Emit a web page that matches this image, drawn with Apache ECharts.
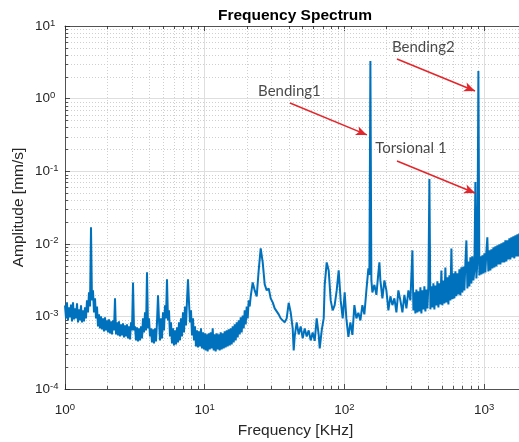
<!DOCTYPE html>
<html><head><meta charset="utf-8">
<script src="https://cdn.jsdelivr.net/npm/echarts@6/dist/echarts.min.js"></script>
<style>html,body{margin:0;padding:0;background:#fff}#c{width:519px;height:442px}</style>
</head><body><div id="c"></div>
<script>
// ---- data (frequency in KHz, amplitude in mm/s) ----
const freq = [
1.000,1.017,1.033,1.050,1.068,1.086,1.104,1.122,1.141,1.160,
1.179,1.199,1.219,1.239,1.259,1.280,1.302,1.323,1.345,1.368,
1.390,1.413,1.437,1.461,1.485,1.510,1.535,1.560,1.586,1.613,
1.640,1.667,1.695,1.723,1.752,1.781,1.810,1.840,1.871,1.902,
1.934,1.966,1.998,2.032,2.065,2.100,2.135,2.170,2.206,2.243,
2.280,2.318,2.357,2.396,2.435,2.476,2.517,2.559,2.602,2.645,
2.689,2.734,2.779,2.825,2.872,2.920,2.968,3.018,3.068,3.119,
3.171,3.223,3.277,3.331,3.387,3.443,3.500,3.558,3.617,3.677,
3.738,3.800,3.864,3.928,3.993,4.060,4.127,4.196,4.265,4.336,
4.408,4.481,4.556,4.632,4.709,4.787,4.866,4.947,5.029,5.113,
5.198,5.284,5.372,5.461,5.553,5.645,5.739,5.834,5.931,6.030,
6.130,6.232,6.335,6.440,6.547,6.656,6.767,6.879,6.993,7.110,
7.228,7.348,7.470,7.594,7.720,7.849,7.979,8.112,8.246,8.383,
8.522,8.664,8.808,8.954,9.103,9.254,9.408,9.565,9.723,9.885,
10.05,10.17,10.33,10.50,10.68,10.86,11.04,11.22,11.41,11.60,
11.79,11.99,12.19,12.39,12.59,12.80,13.02,13.23,13.45,13.68,
13.90,14.13,14.37,14.61,14.85,15.10,15.35,15.60,15.86,16.13,
16.40,16.67,16.95,17.23,17.52,17.81,18.10,18.40,18.71,19.02,
19.34,19.66,19.98,20.32,20.65,21.00,
21.35,22.06,22.80,23.57,24.35,25.17,26.02,26.89,27.79,28.72,
29.68,30.68,31.71,32.77,33.87,35.00,36.17,37.38,38.64,39.93,
41.27,42.65,43.36,44.08,45.56,47.09,48.66,50.29,51.98,53.72,
55.53,57.39,59.31,61.30,63.35,65.47,66.6,68.8,71.1,72.3,
74.70,77.2,79.79,82.46,85.22,88.08,91.03,94.08,97.23,100.5,
103.3,106.8,110.4,114.1,117.9,121.9,125.9,130.2,134.5,139.0,
143.7,148.5,151.0,153.5,156,158.6,164.0,169.5,175.2,178.1,
181.0,187.1,193.4,199.8,206.5,213.5,220.6,228.0,235.7,243.5,
251.7,260.2,268.9,277.9,287.2,296.8,
306.8,311.9,317.1,322.3,327.7,333.1,338.7,344.3,350.0,355.8,
361.7,367.7,373.8,380.0,386.4,392.8,399.3,406.0,412.7,419.6,
426.5,433.6,440.8,448.1,455.6,463.2,470.9,478.7,486.6,494.7,
502.9,511.3,519.8,528.4,537.2,546.1,555.3,564.5,573.9,583.4,
593.1,603.0,613.0,623.2,633.5,644.0,654.7,665.6,676.7,687.9,
699.3,711.0,722.8,734.8,747.0,759.4,772.0,784.9,797.9,811.2,
824.6,838.3,852.2,866.4,880.8,895.4,910.3,925.4,940.8,956.5,
972.3,988.5,1005,1022,1038,1055,1073,1091,1110,1128,
1147,1166,1185,1205,1225,1245,1265,1286,1309,1330,
1352,1375,1397,1420,1444,1468,1492,1517,1542,1568,
1594,1620,1647,1675,1702,1731,1760,1789,1819
];
const amp = [
0.00142,0.000939,0.00156,0.000881,0.00133,0.000969,0.00146,0.000854,0.00156,0.000910,
0.00129,0.000939,0.00151,0.000827,0.00125,0.000881,0.00142,0.000827,0.00121,0.000854,
0.00133,0.000939,0.00166,0.001135,0.00214,0.00137,0.01683,0.00166,0.00228,0.001135,
0.00177,0.000939,0.00137,0.000729,0.001065,0.000684,0.00100,0.000663,0.000939,0.000622,
0.000969,0.000642,0.000881,0.000602,0.000910,0.000584,0.000854,0.000565,0.000881,0.000642,
0.00177,0.000565,0.000827,0.000548,0.000854,0.000530,0.000776,0.000548,0.000801,0.000514,
0.000752,0.000530,0.000776,0.000498,0.000729,0.000482,0.000827,0.000642,0.00294,0.000642,
0.000729,0.000467,0.000706,0.000453,0.000684,0.000467,0.000729,0.000498,0.000939,0.000602,
0.001135,0.000642,0.00404,0.000684,0.000939,0.000530,0.000684,0.000438,0.000663,0.000425,
0.000684,0.000453,0.000827,0.00195,0.000881,0.000467,0.000939,0.000498,0.001135,0.000642,
0.00142,0.000939,0.00324,0.000881,0.00121,0.000530,0.000827,0.000425,0.000684,0.000399,
0.000642,0.000411,0.000706,0.000438,0.000827,0.000467,0.000939,0.000530,0.001135,0.000602,
0.00137,0.000752,0.00166,0.00324,0.00156,0.000827,0.00121,0.000548,0.000939,0.000467,
0.000729,0.000386,0.000642,0.000374,0.000622,0.000386,0.000684,0.000362,0.000602,0.000351,
0.000584,0.000340,0.000565,0.000329,0.000584,0.000351,0.000602,0.000362,0.000684,0.000340,
0.000565,0.000329,0.000584,0.000351,0.000565,0.000340,0.000602,0.000351,0.000584,0.000362,
0.000622,0.000374,0.000642,0.000386,0.000663,0.000399,0.000684,0.000411,0.000729,0.000438,
0.000776,0.000467,0.000827,0.000514,0.000881,0.000565,0.000969,0.000602,0.00103,0.000684,
0.00121,0.000776,0.00137,0.000939,0.00166,0.00137,
0.00189,0.00294,0.00228,0.00189,0.00430,0.00864,0.00554,0.00276,0.00228,0.00243,
0.00177,0.00156,0.00129,0.00137,0.001065,0.000939,0.000985,0.000827,0.000939,0.00154,
0.001135,0.000684,0.000340,0.000530,0.000827,0.000565,0.000729,0.000498,0.000684,0.000530,
0.000642,0.000467,0.000602,0.000460,0.000939,0.000556,0.000362,0.000642,0.000939,0.00272,
0.00554,0.00430,0.00166,0.00121,0.00143,0.00228,0.00430,0.00166,0.000939,0.00214,
0.000939,0.000522,0.000827,0.000556,0.00143,0.000939,0.00112,0.000881,0.00143,0.001065,
0.00228,0.00458,0.00373,3.30,0.00313,0.00214,0.00272,0.00198,0.00404,0.00554,
0.00313,0.00177,0.00313,0.00228,0.00121,0.00189,0.00143,0.00177,0.001135,0.00228,
0.00166,0.001135,0.00198,0.00129,0.00228,0.00166,
0.00811,0.00121,0.00214,0.00110,0.00235,0.001135,0.00221,0.00117,0.00251,0.00110,
0.00228,0.00125,0.00259,0.00117,0.00235,0.00129,0.00267,0.0781,0.00125,0.00259,
0.00133,0.00285,0.00125,0.00267,0.00142,0.00304,0.00133,0.00285,0.00146,0.00430,
0.00142,0.00313,0.00151,0.00473,0.00156,0.00345,0.00146,0.00367,0.00166,0.00864,
0.00172,0.00391,0.00177,0.00417,0.00189,0.00391,0.00201,0.00444,0.00195,0.00473,
0.00214,0.00488,0.00228,0.00537,0.01114,0.00243,0.00572,0.00259,0.00650,0.00285,
0.00671,0.00313,0.00430,0.0710,0.00334,0.00554,2.40,0.00367,0.00671,0.00379,
0.00692,0.00391,0.00737,0.00404,0.00761,0.01226,0.00417,0.00811,0.00430,0.00837,
0.00458,0.00892,0.00473,0.00921,0.00488,0.00950,0.00520,0.00981,0.00520,0.01013,
0.00554,0.01045,0.00554,0.01114,0.00572,0.01114,0.00610,0.01187,0.00610,0.01226,
0.00650,0.01265,0.00629,0.01306,0.00671,0.01348,0.00671,0.01391,0.00692
];
const xRange = [1, 1778];
const yRange = [1e-4, 10];
const xMinorTicks = [2,3,4,5,6,7,8,9,20,30,40,50,60,70,80,90,200,300,400,500,600,700,800,900];
const yMinorTicks = [2e-4,3e-4,4e-4,5e-4,6e-4,7e-4,8e-4,9e-4,2e-3,3e-3,4e-3,5e-3,6e-3,7e-3,8e-3,9e-3,
  0.02,0.03,0.04,0.05,0.06,0.07,0.08,0.09,0.2,0.3,0.4,0.5,0.6,0.7,0.8,0.9,2,3,4,5,6,7,8,9];
const annotationLabels = ['Bending1', 'Bending2', 'Torsional 1'];
const labelAnchors = [[24.1, 1.27], [219, 5.14], [166, 0.209]];
const arrowStarts = [[40.8, 0.87], [238, 3.51], [238, 0.138]];
const arrowEnds = [[145, 0.316], [861, 1.27], [861, 0.050]];

// ---- chart ----
const FONT = '"Liberation Sans", Arial, sans-serif';
const AX = '#262626';
const chart = echarts.init(document.getElementById('c'), null, {renderer: 'canvas'});
const spectrum = freq.map((f, i) => [f, amp[i]]);

function expLabel(v) {
  const l = Math.log10(v);
  const e = Math.round(l);
  if (Math.abs(l - e) > 1e-6) return '';
  return '{b|10}{s|' + (e < 0 ? '-' : '') + Math.abs(e) + '}';
}
const rich = {
  b: {fontSize: 13.5, fontFamily: FONT, color: AX, lineHeight: 16},
  s: {fontSize: 9.5, fontFamily: FONT, color: AX, lineHeight: 11, padding: [0, 0, 6, 0]}
};

function minorX(params, api) {
  const v = api.value(0);
  const b = api.coord([v, yRange[0]]);
  const t = api.coord([v, yRange[1]]);
  const x = Math.round(b[0]) + 0.5;
  return {type: 'group', children: [
    {type: 'line', shape: {x1: x, y1: b[1], x2: x, y2: t[1]}, style: {stroke: '#cfcfcf', lineWidth: 1, lineDash: [1, 2]}},
    {type: 'line', shape: {x1: x, y1: b[1], x2: x, y2: b[1] - 3}, style: {stroke: AX, lineWidth: 0.8}},
    {type: 'line', shape: {x1: x, y1: t[1], x2: x, y2: t[1] + 3}, style: {stroke: AX, lineWidth: 0.8}}
  ]};
}
function minorY(params, api) {
  const v = api.value(1);
  const l = api.coord([xRange[0], v]);
  const r = api.coord([xRange[1], v]);
  const y = Math.round(l[1]) + 0.5;
  return {type: 'group', children: [
    {type: 'line', shape: {x1: l[0], y1: y, x2: r[0], y2: y}, style: {stroke: '#cfcfcf', lineWidth: 1, lineDash: [1, 2]}},
    {type: 'line', shape: {x1: l[0], y1: y, x2: l[0] + 3, y2: y}, style: {stroke: AX, lineWidth: 0.8}}
  ]};
}

const xCommon = {
  type: 'log', logBase: 10, min: xRange[0], max: xRange[1],
  axisLine: {show: true, lineStyle: {color: AX, width: 0.8}},
  axisTick: {show: true, inside: true, length: 5, lineStyle: {color: AX, width: 0.8}},
  minorTick: {show: false}, minorSplitLine: {show: false}
};

chart.setOption({
  animation: false,
  backgroundColor: '#fff',
  title: {
    text: 'Frequency Spectrum', left: 290, top: 3, textAlign: 'center',
    textStyle: {fontFamily: FONT, fontSize: 15.5, fontWeight: 'bold', color: '#000'}
  },
  grid: {left: 65, top: 26, width: 454, height: 363, containLabel: false, outerBoundsMode: 'none'},
  xAxis: [
    Object.assign({}, xCommon, {
      position: 'bottom',
      name: 'Frequency [KHz]', nameLocation: 'middle', nameGap: 34, nameMoveOverlap: false,
      nameTextStyle: {fontFamily: FONT, fontSize: 15.5, color: AX, padding: [0, 0, 0, 7]},
      axisLabel: {show: true, margin: 13, formatter: expLabel, rich: rich, showMaxLabel: false},
      splitLine: {show: true, showMaxLine: false, showMinLine: false, lineStyle: {color: '#dedede', width: 1}}
    }),
    Object.assign({}, xCommon, {
      position: 'top', axisLabel: {show: false}, splitLine: {show: false}
    })
  ],
  yAxis: [{
    type: 'log', logBase: 10, min: yRange[0], max: yRange[1],
    name: 'Amplitude [mm/s]', nameLocation: 'middle', nameGap: 38, nameMoveOverlap: false,
    nameTextStyle: {fontFamily: FONT, fontSize: 15.5, color: AX},
    axisLine: {show: true, lineStyle: {color: AX, width: 0.8}},
    axisTick: {show: true, inside: true, length: 5, lineStyle: {color: AX, width: 0.8}},
    axisLabel: {show: true, margin: 30, align: 'left', formatter: expLabel, rich: rich},
    splitLine: {show: true, showMaxLine: false, showMinLine: false, lineStyle: {color: '#dedede', width: 1}}
  }],
  series: [
    {
      type: 'custom', name: 'minorX', xAxisIndex: 0, yAxisIndex: 0, silent: true, z: 1,
      renderItem: minorX, data: xMinorTicks.map(v => [v, 1]), clip: false
    },
    {
      type: 'custom', name: 'minorY', xAxisIndex: 0, yAxisIndex: 0, silent: true, z: 1,
      renderItem: minorY, data: yMinorTicks.map(v => [1, v]), clip: false
    },
    {
      type: 'line', name: 'spectrum', xAxisIndex: 0, yAxisIndex: 0, z: 3,
      data: spectrum, showSymbol: false, symbol: 'none',
      lineStyle: {color: '#0072BD', width: 2}, clip: true,
      markLine: {
        silent: true, symbol: ['none', 'arrow'], symbolSize: [7, 11],
        label: {show: false},
        lineStyle: {color: '#e3262b', width: 1.5, type: 'solid'},
        data: arrowStarts.map((s, i) => [{coord: s}, {coord: arrowEnds[i]}])
      }
    },
    {
      type: 'scatter', name: 'labels', z: 4, silent: true, symbolSize: 0,
      data: labelAnchors.map((p, i) => ({value: p, name: annotationLabels[i]})),
      label: {show: true, position: 'right', distance: 0, formatter: p => p.name,
        fontFamily: 'Lato, "Open Sans", sans-serif', fontSize: 15, color: '#1a1a1a'}
    }
  ]
});
</script>
</body></html>
